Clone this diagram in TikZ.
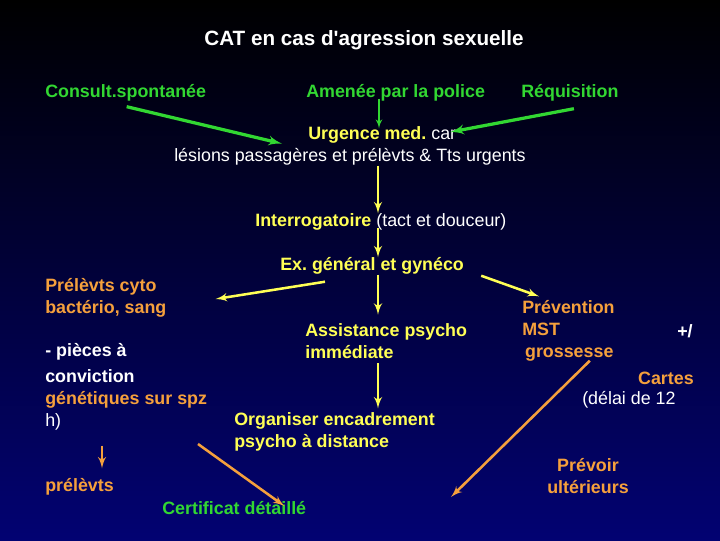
\documentclass[tikz,border=0pt]{standalone}
\usepackage{fontspec}
\setmainfont{Liberation Sans}
\usetikzlibrary{arrows,calc}
\frenchspacing

\definecolor{bgnavy}{RGB}{2,2,114}
\definecolor{bgmid}{RGB}{3,3,84}
\definecolor{slgreen}{RGB}{50,215,50}
\definecolor{slyellow}{RGB}{255,255,85}
\definecolor{slorange}{RGB}{245,160,60}

\begin{document}
\begin{tikzpicture}[x=0.025cm,y=-0.025cm,>=latex',
	txt/.style={inner sep=0pt,anchor=west,align=left,
		font=\bfseries\fontsize{12.7}{15.6}\selectfont},
	plain/.style={font=\mdseries\fontsize{12.7}{15.6}\selectfont},
	garrow/.style={->,draw=slgreen,line width=2.3pt},
	yarrow/.style={->,draw=slyellow,line width=1.8pt},
	oarrow/.style={->,draw=slorange,line width=1.8pt}]
	% background
	\shade[top color=black,middle color=bgmid,bottom color=bgnavy] (0,0) rectangle (720,540);
	\coordinate (axis) at (378,0);

	\node[inner sep=0pt,text=white,font=\bfseries\fontsize{14.7}{17}\selectfont](title) at (364,40){CAT en cas d\textquotesingle agression sexuelle};

	\node[txt,text=slgreen](consult) at (45,93){Consult.spontanée};
	\node[txt,text=slgreen](amenee) at (306,93){Amenée par la police};
	\node[txt,text=slgreen](requis) at (521,93){Réquisition};

	\node[txt,text=slyellow](urg) at (308,135){Urgence med.\textcolor{white}{\mdseries{} car}};
	\node[txt,text=white,plain](lesions) at (174,157){lésions passagères et prélèvts \& Tts urgents};

	\node[txt,text=slyellow](interro) at (255,222){Interrogatoire\textcolor{white}{\mdseries{} (tact et douceur)}};
	\node[txt,text=slyellow](exam) at (280,266){Ex. général et gynéco};

	\node[txt,text=slorange](prelev) at (45,298){Prélèvts cyto\\bactério, sang};
	\node[txt,text=slyellow](assist) at (305,341.5){Assistance psycho\\immédiate};
	\node[txt,text=slorange](prevent) at (522,331){Prévention\\MST\\\hspace{2pt}grossesse};
	\node[txt,text=white](plusmoins) at (677,331){+/};

	\node[txt,text=white](pieces) at (45,387){- pièces à\\[3pt]conviction\\
		\textcolor{slorange}{génétiques sur spz}\\\mdseries h)};
	\node[txt,text=slorange,anchor=east](cartes) at (694,378){Cartes};
	\node[txt,text=white,plain](delai) at (582,400){(délai de 12};

	\node[txt,text=slyellow](organ) at (234,432){Organiser encadrement\\psycho à distance};
	\node[txt,text=slorange,align=center,anchor=center](prevoir) at (588,476){Prévoir\\ultérieurs};
	\node[txt,text=slorange](prelevts) at (45,487){prélèvts};
	\node[txt,text=slgreen](certif) at (162,508){Certificat détaillé};
	\coordinate (prevend) at (451,497);

	% arrows
	\draw[garrow] ($(consult.south)+(1,5)$) -- ($(urg.south west)+(-26,0)$);
	\draw[garrow,line width=1.2pt] ($(amenee.south -| axis)+(1,-3)$) -- ($(urg.north -| axis)+(1,2)$);
	\draw[garrow] ($(requis.south)+(4,7)$) -- ($(urg.east)+(-6,-3)$);

	\draw[yarrow] (lesions.south -| axis) -- (interro.north -| axis);
	\draw[yarrow] ($(interro.south -| axis)+(0,-3)$) -- (exam.north -| axis);
	\draw[yarrow] (exam.south -| axis) -- ($(assist.north -| axis)+(0,-9)$);
	\draw[yarrow] ($(exam.south west)+(45,7)$) -- ($(prelev.east)+(49,1)$);
	\draw[yarrow] ($(exam.south east)+(17,1)$) -- ($(prevent.north west)+(17,-4)$);
	\draw[yarrow] ($(assist.south -| axis)+(0,4)$) -- ($(organ.north -| axis)+(0,-4)$);

	\draw[oarrow] ($(pieces.south west)+(57,15)$) -- ($(prelevts.north west)+(57,-10)$);
	\draw[oarrow] ($(organ.west)+(-36,12)$) -- ($(certif.north east)+(-22,5)$);
	\draw[oarrow] ($(prevent.south east)+(-25,-1)$) -- (prevend);
\end{tikzpicture}
\end{document}
